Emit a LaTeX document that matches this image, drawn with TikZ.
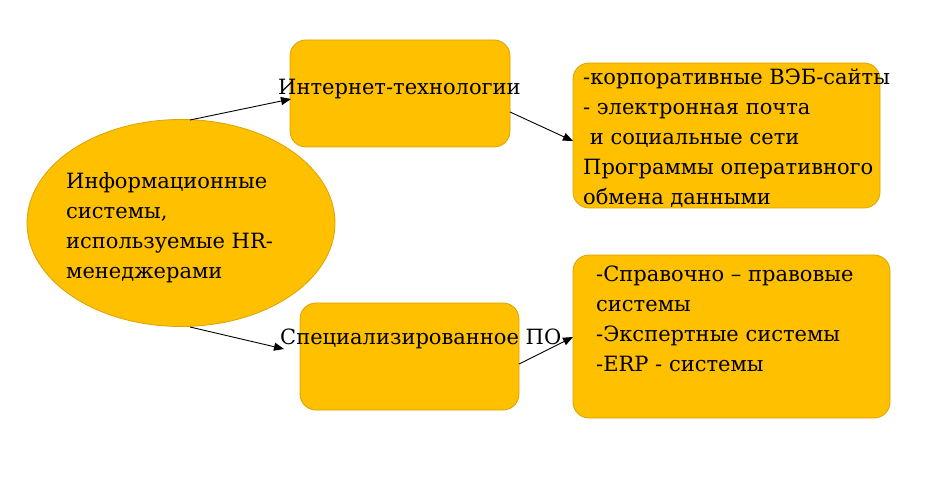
\documentclass[tikz,border=0pt]{standalone}
\usepackage{fontspec}
\setmainfont{DejaVu Serif}
\newfontfamily\tnr{DejaVu Serif}
\usetikzlibrary{shapes.geometric,arrows.meta}
\definecolor{fillY}{HTML}{FFC000}
\definecolor{edgeY}{HTML}{D9A300}
\tikzset{
  shp/.style={fill=fillY,draw=edgeY,line width=0.8pt},
  rbox/.style={shp,rectangle,rounded corners=16pt,inner sep=0pt},
  ell/.style={shp,ellipse,inner sep=0pt},
  txt/.style={inner sep=0pt,font=\tnr\fontsize{21}{30}\selectfont,text=black},
  arr/.style={-{Triangle[length=10pt,width=8pt]},line width=0.9pt,black}
}
\begin{document}
\begin{tikzpicture}[x=1pt,y=-1pt]
\useasboundingbox (0,0) rectangle (945,486);
\node[ell,minimum width=308pt,minimum height=207pt] (e) at (181,223) {};
\node[rbox,minimum width=220pt,minimum height=107pt] (b1) at (400,93.5) {};
\node[rbox,minimum width=307pt,minimum height=145pt] (b2) at (726.5,135.5) {};
\node[rbox,minimum width=219pt,minimum height=107pt] (b3) at (409.5,356.5) {};
\node[rbox,minimum width=317pt,minimum height=163pt] (b4) at (731.5,336.5) {};

\node[txt,align=left,anchor=west] (te) at (66,228) {Информационные\\системы,\\используемые HR-\\менеджерами};
\node[txt,anchor=west] (t1) at (278,89) {Интернет-технологии};
\node[txt,align=left,anchor=north west] (t2) at (583,69) {-корпоративные ВЭБ-сайты\\- электронная почта\\\ и социальные сети\\Программы оперативного\\обмена данными};
\node[txt,anchor=west] (t3) at (280,339) {Специализированное ПО};
\node[txt,align=left,anchor=north west] (t4) at (596,266) {-Справочно – правовые\\системы\\-Экспертные системы\\-ERP - системы};

\coordinate (s1) at (190,120);
\coordinate (e1) at (291,99);
\coordinate (s2) at (510,112);
\coordinate (e2) at (573,141);
\coordinate (s3) at (190,327);
\coordinate (e3) at (284,349);
\coordinate (s4) at (519,364);
\coordinate (e4) at (573,337);
\draw[arr] (s1) -- (e1);
\draw[arr] (s2) -- (e2);
\draw[arr] (s3) -- (e3);
\draw[arr] (s4) -- (e4);
\end{tikzpicture}
\end{document}
